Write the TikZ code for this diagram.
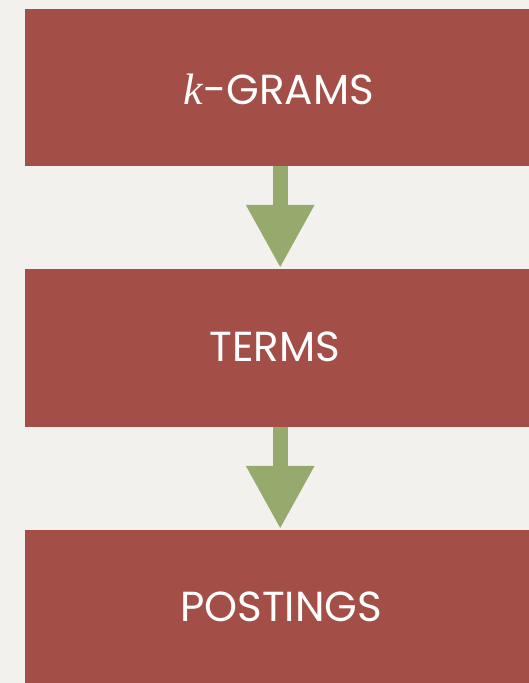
\documentclass[tikz,border=0pt]{standalone}
\usepackage{fontspec}
\setmainfont{Poppins}
\newfontfamily\kfont{Liberation Serif}
\usetikzlibrary{arrows.meta}
\definecolor{bg}{RGB}{242,241,238}
\definecolor{boxred}{RGB}{164,78,72}
\definecolor{arrowgreen}{RGB}{150,170,110}
\tikzset{
  stagebox/.style={fill=boxred, draw=none, inner sep=0pt, minimum width=504pt, anchor=north west},
  stagetext/.style={text=white, inner sep=0pt, anchor=base, font=\fontsize{42}{48}\selectfont},
  flow/.style={draw=arrowgreen, line width=15pt, -{Triangle[width=64pt,length=63pt]}}
}
\begin{document}
\begin{tikzpicture}[x=1pt,y=1pt]
\fill[bg] (0,0) rectangle (529,683);
\useasboundingbox (0,0) rectangle (529,683);
\node[stagebox, minimum height=157pt] (b1) at (25,674) {};
\node[stagebox, minimum height=158pt] (b2) at (25,414) {};
\node[stagebox, minimum height=153pt] (b3) at (25,153) {};
\node[stagetext] (t1) at (279,578) {{\kfont\itshape\fontsize{44}{48}\selectfont k}-GRAMS};
\node[stagetext] (t2) at (275,321) {TERMS};
\node[stagetext] (t3) at (281,61) {POSTINGS};
\draw[flow] ([xshift=3pt]b1.south) -- ([xshift=3pt,yshift=1pt]b2.north);
\draw[flow] ([xshift=3pt]b2.south) -- ([xshift=3pt,yshift=1pt]b3.north);
\end{tikzpicture}
\end{document}
